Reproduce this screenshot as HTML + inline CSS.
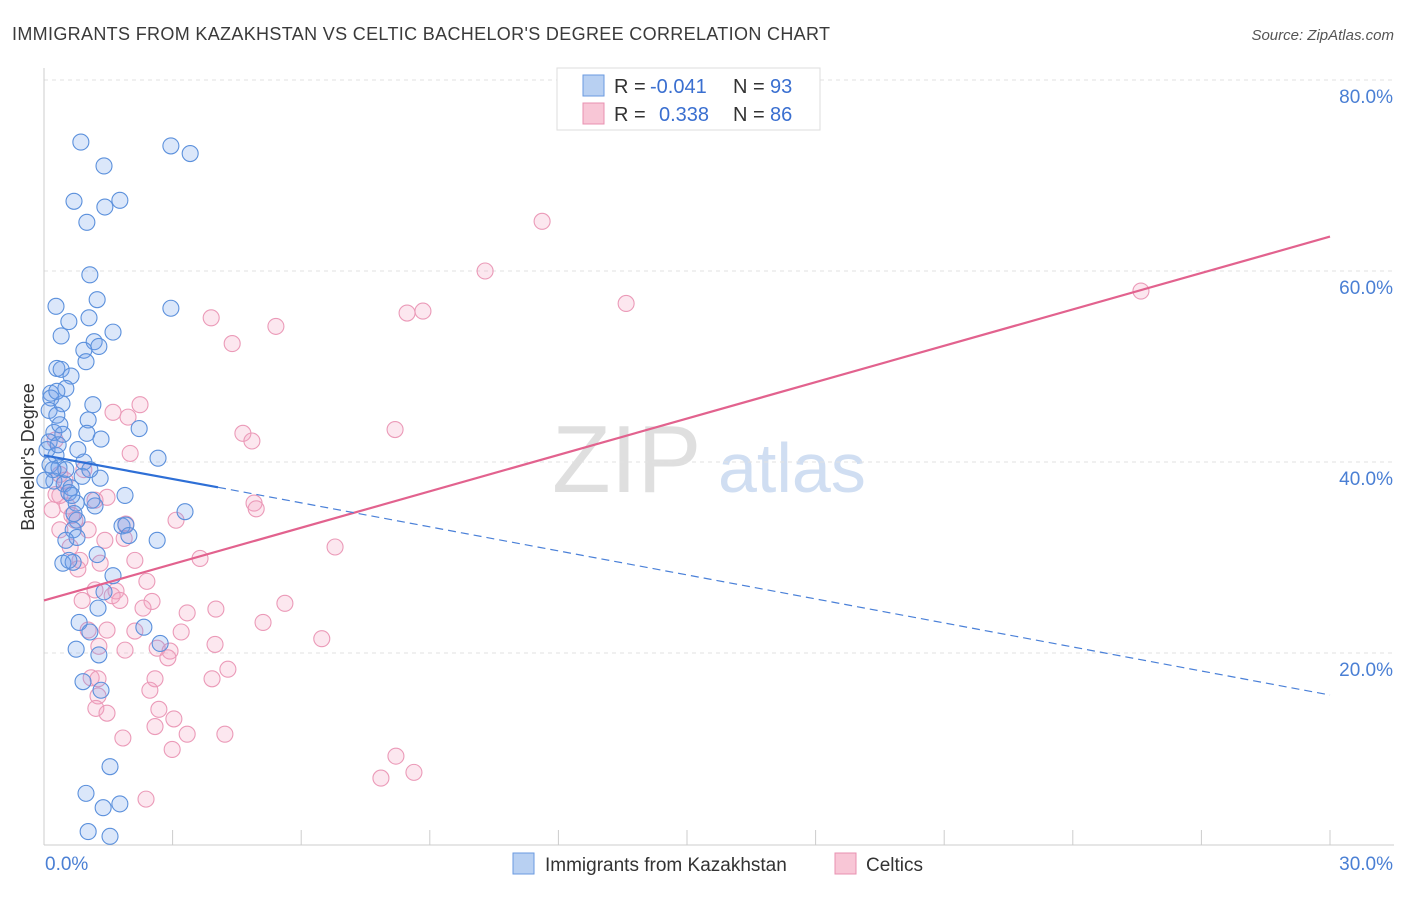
<!DOCTYPE html>
<html><head><meta charset="utf-8">
<style>
body{margin:0;background:#fff;font-family:"Liberation Sans",sans-serif;}
svg text{font-family:"Liberation Sans",sans-serif;}
</style></head>
<body>
<svg id="chart" width="1406" height="892" viewBox="0 0 1406 892" xmlns="http://www.w3.org/2000/svg">
<text x="12" y="40" font-size="18" fill="#3a3a3a" textLength="818" lengthAdjust="spacing">IMMIGRANTS FROM KAZAKHSTAN VS CELTIC BACHELOR'S DEGREE CORRELATION CHART</text>
<text x="1394" y="40" font-size="15" fill="#555" font-style="italic" text-anchor="end">Source: ZipAtlas.com</text>
<g>
<text x="552" y="492" font-size="96" font-family="Liberation Serif,serif" fill="#d8d8d8" opacity="0.8">ZIP</text>
<text x="718" y="492" font-size="70" fill="#c5d7ef" opacity="0.8">atlas</text>
</g>
<g id="grid"></g>
<g id="axes"></g>
<g id="pinkPts"></g>
<g id="bluePts"></g>
<g id="trends"></g>
<text transform="translate(34,457) rotate(-90)" font-size="18" fill="#333" text-anchor="middle">Bachelor's Degree</text>
<g>
<rect x="557" y="68" width="263" height="62" fill="#fff" stroke="#ddd"/>
<rect x="583" y="75" width="21" height="21" fill="#b8d0f2" stroke="#6a9ae0"/>
<rect x="583" y="103" width="21" height="21" fill="#f8c6d6" stroke="#e890b0"/>
<text x="614" y="93" font-size="20" fill="#333">R =</text>
<text x="650" y="93" font-size="20" fill="#3a6fd0">-0.041</text>
<text x="733" y="93" font-size="20" fill="#333">N =</text>
<text x="770" y="93" font-size="20" fill="#3a6fd0">93</text>
<text x="614" y="121" font-size="20" fill="#333">R =</text>
<text x="659" y="121" font-size="20" fill="#3a6fd0">0.338</text>
<text x="733" y="121" font-size="20" fill="#333">N =</text>
<text x="770" y="121" font-size="20" fill="#3a6fd0">86</text>
</g>
<g>
<rect x="513" y="853" width="21" height="21" fill="#b8d0f2" stroke="#6a9ae0"/>
<text x="545" y="871" font-size="19" fill="#333">Immigrants from Kazakhstan</text>
<rect x="835" y="853" width="21" height="21" fill="#f8c6d6" stroke="#e890b0"/>
<text x="866" y="871" font-size="19" fill="#333">Celtics</text>
</g>
</svg>
<script>
const yTicks=[20,40,60,80];
const xTickLabels=["0.0%","30.0%"];
const blueX=[0.86,2.96,3.41,1.40,0.70,1.77,1.42,1.00,1.07,1.24,0.28,2.96,0.58,1.05,1.61,0.40,1.17,1.28,0.93,0.98,0.30,0.40,0.63,0.51,0.16,0.16,0.42,1.14,0.12,0.30,1.03,2.22,0.23,0.44,1.00,1.33,0.12,0.28,2.66,0.14,0.35,0.51,0.89,1.31,0.23,0.47,0.63,0.58,1.89,0.75,1.19,0.77,1.82,1.91,0.68,1.98,0.77,2.64,3.29,1.24,0.44,0.68,1.61,1.40,1.26,0.82,2.33,1.07,2.71,0.75,1.28,0.91,1.33,1.54,0.98,1.77,1.38,1.03,1.54,0.30,0.07,0.37,0.79,0.51,0.58,0.21,0.02,1.12,0.65,0.33,0.93,0.70,1.07];
const blueY=[73.5,73.1,72.3,71.0,67.3,67.4,66.7,65.1,59.6,57.0,56.3,56.1,54.7,55.1,53.6,53.2,52.6,52.1,51.7,50.5,49.8,49.7,49.0,47.7,47.2,46.7,46.1,46.0,45.4,44.9,44.4,43.5,43.1,42.9,43.0,42.4,42.1,40.7,40.4,39.7,39.4,39.2,38.5,38.3,38.0,37.7,37.3,36.8,36.5,35.7,35.4,33.9,33.3,33.4,32.9,32.3,32.1,31.8,34.8,30.3,29.4,29.5,28.1,26.4,24.7,23.2,22.7,22.2,21.0,20.4,19.8,17.0,16.1,8.1,5.3,4.2,3.8,1.3,0.8,47.4,41.3,43.9,41.3,31.8,29.7,39.2,38.1,36.0,36.5,41.8,40.0,34.6,39.2];
const pinkX=[11.62,10.29,25.59,13.58,8.47,8.84,3.90,5.41,4.39,2.24,1.61,1.96,4.64,4.85,8.19,2.01,0.26,0.93,0.37,0.28,1.47,1.19,4.90,4.95,3.08,0.54,1.91,1.87,6.79,0.61,0.37,0.72,3.64,1.31,0.79,2.40,0.89,1.68,1.59,2.52,5.62,4.01,3.34,2.31,5.11,3.20,1.47,2.12,6.48,1.03,3.99,1.89,2.64,2.94,1.28,2.89,4.29,1.10,1.26,3.92,2.59,2.47,1.26,1.21,1.47,2.68,3.03,2.59,3.34,1.84,4.22,2.99,8.21,7.86,8.63,2.38,0.37,0.65,1.03,0.19,0.49,1.77,1.42,0.84,2.12,1.19];
const pinkY=[65.2,60.0,57.9,56.6,55.6,55.8,55.1,54.2,52.4,46.0,45.2,44.7,43.0,42.2,43.4,40.9,42.3,39.2,38.7,36.6,36.3,36.0,35.7,35.1,33.9,35.4,33.5,32.0,31.1,31.1,32.9,33.9,29.9,29.4,28.8,27.5,25.5,26.5,26.0,25.4,25.2,24.6,24.2,24.7,23.2,22.2,22.4,22.3,21.5,22.4,20.9,20.3,20.5,20.2,20.7,19.5,18.3,17.4,17.3,17.3,17.3,16.1,15.5,14.2,13.7,14.1,13.1,12.3,11.5,11.1,11.5,9.9,9.2,6.9,7.5,4.7,36.5,34.4,32.9,35.0,38.1,25.5,31.8,29.7,29.7,26.6];
const blueTrendX=[0,4.06,30];
const blueTrendY=[40.7,37.35,15.6];
const pinkTrendX=[0,30];
const pinkTrendY=[25.5,63.6];

const NS="http://www.w3.org/2000/svg";
const L=44,R=1330,T=80,B=844;
function sx(v){return L+(v/30)*(R-L);}
function sy(v){return B-(v/80)*(B-T);}
function mk(tag,attrs,parent){const e=document.createElementNS(NS,tag);for(const k in attrs)e.setAttribute(k,attrs[k]);parent.appendChild(e);return e;}
const grid=document.getElementById('grid'),axes=document.getElementById('axes');
yTicks.forEach(t=>{
  const l=mk('line',{x1:L,x2:1394,y1:sy(t),y2:sy(t),stroke:'#e2e2e2','stroke-dasharray':'4,4'},grid);
  
  
  const tx=mk('text',{x:1393,y:sy(t)+23,'font-size':19,fill:'#4a7fd4','text-anchor':'end'},axes);
  tx.textContent=t.toFixed(1)+'%';
  
  
});
const xl=mk('line',{x1:L,x2:1394,y1:845,y2:845,stroke:'#ccc'},axes);


const yl=mk('line',{x1:L,x2:L,y1:68,y2:845,stroke:'#ccc'},axes);


for(let i=0;i<=10;i++){
  const tk=mk('line',{x1:sx(i*3),x2:sx(i*3),y1:830,y2:845,stroke:'#ccc'},axes);
  
  
}
const x0=mk('text',{x:45,y:870,'font-size':19,fill:'#4a7fd4'},axes);x0.textContent=xTickLabels[0];


const x1=mk('text',{x:1393,y:870,'font-size':19,fill:'#4a7fd4','text-anchor':'end'},axes);x1.textContent=xTickLabels[1];


const pg=document.getElementById('pinkPts');
pinkX.forEach((x,i)=>{
  const c=mk('circle',{cx:sx(x),cy:sy(pinkY[i]),r:8,fill:'rgba(244,160,190,0.25)',stroke:'#eb9ab8','stroke-width':1.1},pg);
  
  
});
const bg=document.getElementById('bluePts');
blueX.forEach((x,i)=>{
  const c=mk('circle',{cx:sx(x),cy:sy(blueY[i]),r:8,fill:'rgba(110,160,235,0.25)',stroke:'#5b90dc','stroke-width':1.1},bg);
  
  
});
const tg=document.getElementById('trends');
const pt=mk('line',{x1:sx(pinkTrendX[0]),y1:sy(pinkTrendY[0]),x2:sx(pinkTrendX[1]),y2:sy(pinkTrendY[1]),stroke:'#e2628e','stroke-width':2.2},tg);


const bt=mk('line',{x1:sx(blueTrendX[0]),y1:sy(blueTrendY[0]),x2:sx(blueTrendX[1]),y2:sy(blueTrendY[1]),stroke:'#2e6fd6','stroke-width':2.2},tg);


const bd=mk('line',{x1:sx(blueTrendX[1]),y1:sy(blueTrendY[1]),x2:sx(blueTrendX[2]),y2:sy(blueTrendY[2]),stroke:'#4a80d8','stroke-width':1.2,'stroke-dasharray':'8,5'},tg);


</script>
</body></html>
